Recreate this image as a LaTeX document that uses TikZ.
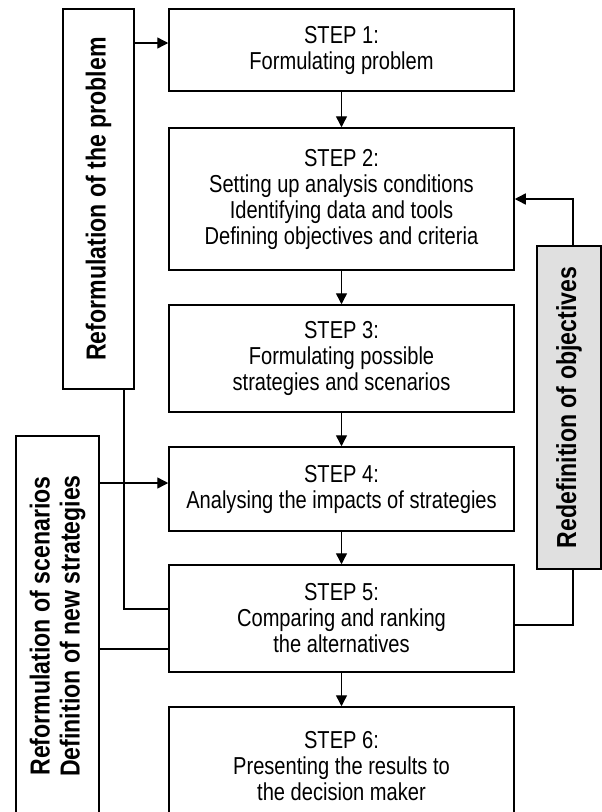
\documentclass[tikz,border=0pt]{standalone}
\usepackage{fontspec}
\setmainfont{Liberation Sans}[FakeStretch=0.82]
\newfontfamily\sidefont{Liberation Sans}[FakeStretch=0.84]
\usetikzlibrary{arrows.meta}
\definecolor{boxgray}{HTML}{E0E0E0}
\begin{document}
\begin{tikzpicture}[x=1pt,y=-1pt,
  stepbox/.style={draw, line width=1.5pt, minimum width=345pt, align=center, inner sep=0pt,
    font=\fontsize{24.5}{26}\selectfont},
  sidebox/.style={draw, line width=1.5pt, inner sep=0pt},
  sidetext/.style={rotate=90, align=center, inner sep=0pt,
    font=\sidefont\fontsize{27.5}{30}\selectfont\bfseries},
  conn/.style={line width=1.4pt},
  arr/.style={conn, -{Triangle[length=11pt,width=11pt]}}]
\useasboundingbox (0,0) rectangle (602,812);
\clip (0,0) rectangle (602,812);
% main steps
\node[stepbox, minimum height=82pt]  (s1) at (341.5,50)    {STEP 1:\\Formulating problem};
\node[stepbox, minimum height=142pt] (s2) at (341.5,199)   {STEP 2:\\Setting up analysis conditions\\Identifying data and tools\\Defining objectives and criteria};
\node[stepbox, minimum height=107pt] (s3) at (341.5,358.5) {STEP 3:\\Formulating possible\\strategies and scenarios};
\node[stepbox, minimum height=84pt]  (s4) at (341.5,489)   {STEP 4:\\Analysing the impacts of strategies};
\node[stepbox, minimum height=107pt] (s5) at (341.5,618.5) {STEP 5:\\Comparing and ranking\\the alternatives};
\node[stepbox, minimum height=118pt] (s6) at (341.5,766)   {STEP 6:\\Presenting the results to\\the decision maker};
% side boxes
\node[sidebox, minimum width=71pt, minimum height=380pt] (rp) at (98.5,199) {};
\node[sidetext] (rpt) at (rp.center) {Reformulation of the problem};
\node[sidebox, minimum width=83pt, minimum height=380pt] (sc) at (57.5,626) {};
\node[sidetext] (sct) at (sc.center) {Reformulation of scenarios\\Definition of new strategies};
\node[sidebox, fill=boxgray, minimum width=64pt, minimum height=323pt] (ob) at (569,407.5) {};
\node[sidetext] (obt) at (ob.center) {Redefinition of objectives};
% vertical flow
\draw[arr] (s1) -- (s2);
\draw[arr] (s2) -- (s3);
\draw[arr] (s3) -- (s4);
\draw[arr] (s4) -- (s5);
\draw[arr] (s5) -- (s6);
% feedback connectors
\draw[arr] (rp.east |- 0,43) -- (s1.west |- 0,43);
\draw[conn] (124,0 |- rp.south) -- (124,609) -- (s5.west |- 0,609);
\draw[arr] (sc.east |- 0,483) -- (s4.west |- 0,483);
\draw[conn] (sc.east |- 0,649) -- (s5.west |- 0,649);
\draw[arr] (573,0 |- ob.north) -- (573,199) -- (s2.east);
\draw[conn] (573,0 |- ob.south) -- (573,625) -- (s5.east |- 0,625);
\end{tikzpicture}
\end{document}
